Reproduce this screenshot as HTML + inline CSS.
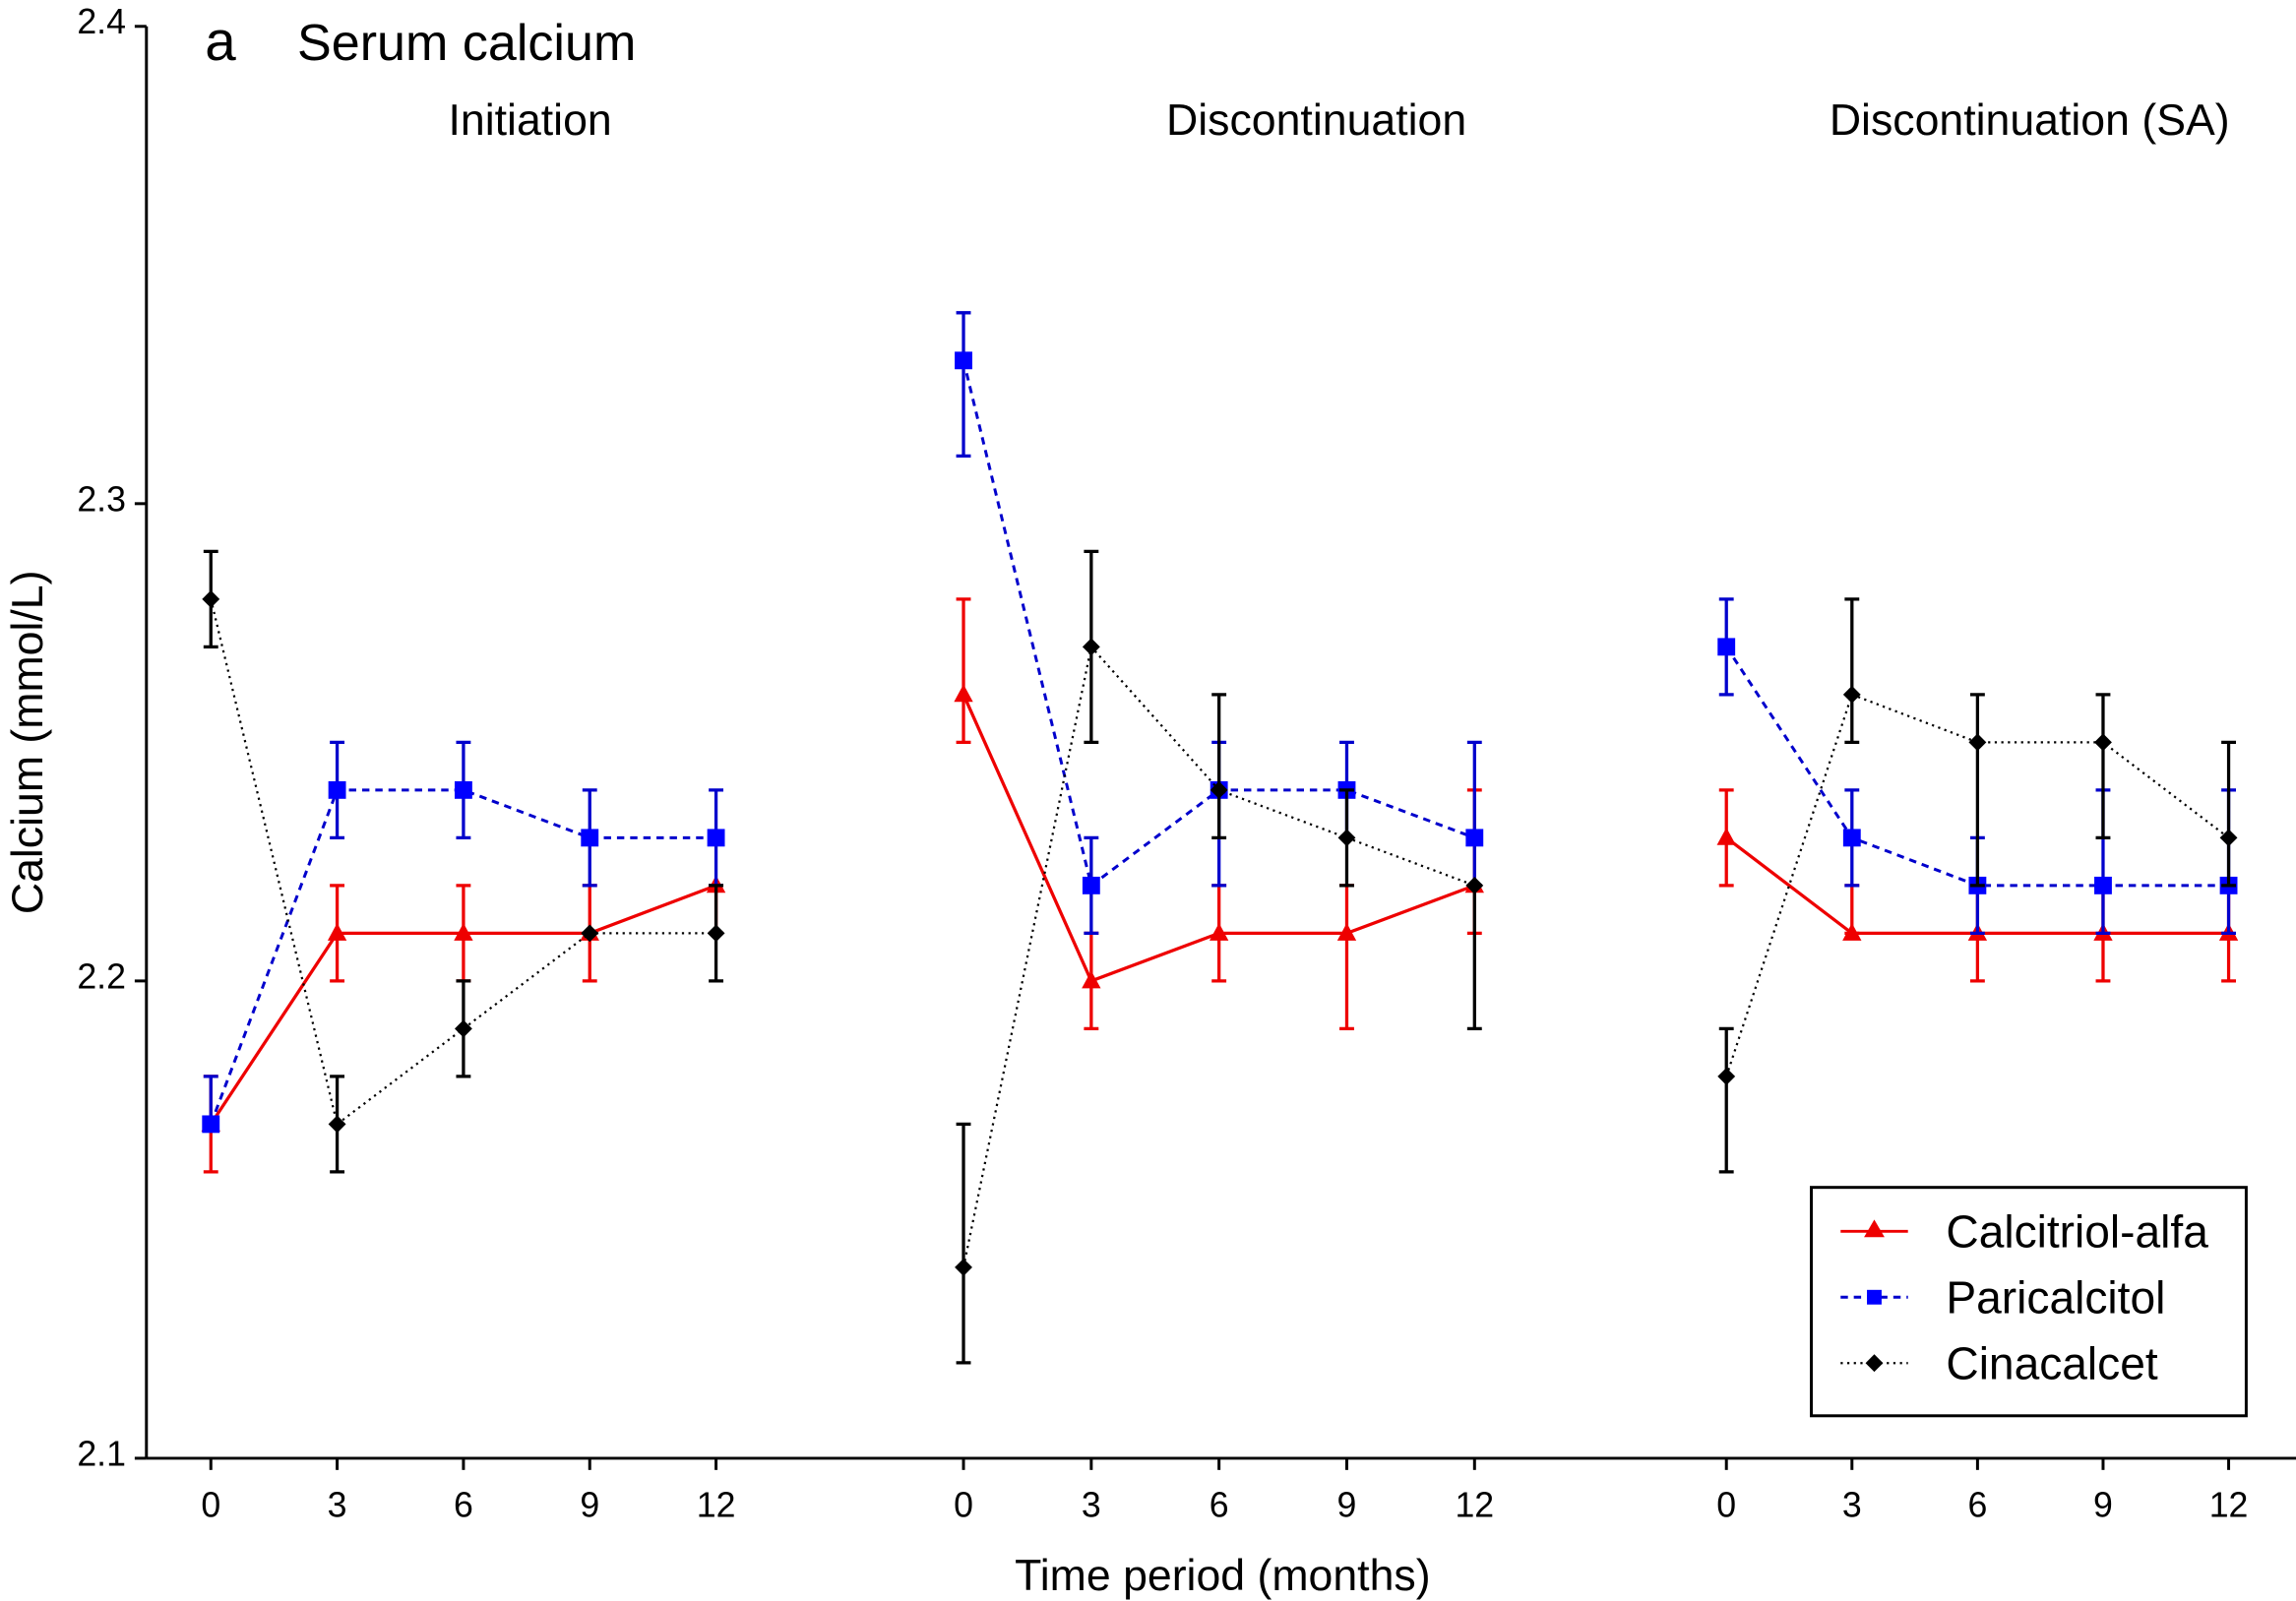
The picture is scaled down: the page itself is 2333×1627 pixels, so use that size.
<!DOCTYPE html>
<html><head><meta charset="utf-8"><style>html,body{margin:0;padding:0;background:#fff}svg{display:block}</style></head>
<body>
<svg id="chart" width="2333" height="1627" viewBox="0 0 1568 1093.5" xmlns="http://www.w3.org/2000/svg" font-family="Liberation Sans, Arial, sans-serif">
<rect width="1568" height="1093.5" fill="#fff"/>
<g id="axes"></g>
<g id="series"></g>
<text x="140" y="41" font-size="38">a</text>
<text x="203" y="41" font-size="35">Serum calcium</text>
<text x="362" y="92" font-size="30" text-anchor="middle">Initiation</text>
<text x="899" y="92" font-size="30" text-anchor="middle">Discontinuation</text>
<text x="1386" y="92" font-size="30" text-anchor="middle">Discontinuation (SA)</text>
<text transform="translate(29,507) rotate(-90)" font-size="30" text-anchor="middle">Calcium (mmol/L)</text>
<text x="835" y="1086" font-size="30" text-anchor="middle">Time period (months)</text>
<g>
<rect x="1237" y="811" width="297" height="156" fill="#fff" stroke="#000" stroke-width="2"/>
<line x1="1257" y1="841" x2="1303" y2="841" stroke="#e00" stroke-width="2"/>
<polygon points="1280,833 1287,845 1273,845" fill="#e00"/>
<text x="1329" y="852" font-size="31">Calcitriol-alfa</text>
<line x1="1257" y1="886" x2="1303" y2="886" stroke="#00c" stroke-width="2" stroke-dasharray="5,4"/>
<rect x="1275" y="881" width="10" height="10" fill="#00f"/>
<text x="1329" y="897" font-size="31">Paricalcitol</text>
<line x1="1257" y1="931" x2="1303" y2="931" stroke="#000" stroke-width="1.5" stroke-dasharray="1.5,3"/>
<polygon points="1280,925 1286,931 1280,937 1274,931" fill="#000"/>
<text x="1329" y="942" font-size="31">Cinacalcet</text>
</g>
</svg>
<script>
const months = [0, 3, 6, 9, 12];
const yTicks = [2.1, 2.2, 2.3, 2.4];
const panelStarts = [144, 658, 1179];
const panelEnds = [489, 1007, 1522];
// Panel 1: Initiation
const calcMean1 = [2.17, 2.21, 2.21, 2.21, 2.22];
const calcLo1 = [2.16, 2.20, 2.20, 2.20, 2.21];
const calcHi1 = [2.18, 2.22, 2.22, 2.22, 2.22];
const pariMean1 = [2.17, 2.24, 2.24, 2.23, 2.23];
const pariLo1 = [2.17, 2.23, 2.23, 2.22, 2.22];
const pariHi1 = [2.18, 2.25, 2.25, 2.24, 2.24];
const cinaMean1 = [2.28, 2.17, 2.19, 2.21, 2.21];
const cinaLo1 = [2.27, 2.16, 2.18, 2.21, 2.20];
const cinaHi1 = [2.29, 2.18, 2.20, 2.21, 2.22];
// Panel 2: Discontinuation
const calcMean2 = [2.26, 2.20, 2.21, 2.21, 2.22];
const calcLo2 = [2.25, 2.19, 2.20, 2.19, 2.21];
const calcHi2 = [2.28, 2.21, 2.22, 2.22, 2.24];
const pariMean2 = [2.33, 2.22, 2.24, 2.24, 2.23];
const pariLo2 = [2.31, 2.21, 2.22, 2.23, 2.22];
const pariHi2 = [2.34, 2.23, 2.25, 2.25, 2.25];
const cinaMean2 = [2.14, 2.27, 2.24, 2.23, 2.22];
const cinaLo2 = [2.12, 2.25, 2.23, 2.22, 2.19];
const cinaHi2 = [2.17, 2.29, 2.26, 2.24, 2.22];
// Panel 3: Discontinuation (SA)
const calcMean3 = [2.23, 2.21, 2.21, 2.21, 2.21];
const calcLo3 = [2.22, 2.21, 2.20, 2.20, 2.20];
const calcHi3 = [2.24, 2.22, 2.22, 2.22, 2.22];
const pariMean3 = [2.27, 2.23, 2.22, 2.22, 2.22];
const pariLo3 = [2.26, 2.22, 2.21, 2.21, 2.21];
const pariHi3 = [2.28, 2.24, 2.23, 2.24, 2.24];
const cinaMean3 = [2.18, 2.26, 2.25, 2.25, 2.23];
const cinaLo3 = [2.16, 2.25, 2.22, 2.23, 2.22];
const cinaHi3 = [2.19, 2.28, 2.26, 2.26, 2.25];

const NS = 'http://www.w3.org/2000/svg';
const yScale = v => 996 - (v - 2.1) / 0.3 * 978;
const xScale = (p, m) => panelStarts[p] + m / 12 * (panelEnds[p] - panelStarts[p]);
function mk(tag, attrs, parent) {
  const e = document.createElementNS(NS, tag);
  for (const k in attrs) e.setAttribute(k, attrs[k]);
  parent.appendChild(e);
  return e;
}
const axes = document.getElementById('axes');
let el = mk('line', {x1: 100, y1: 18, x2: 100, y2: 996, stroke: '#000', 'stroke-width': 2}, axes);


el = mk('line', {x1: 100, y1: 996, x2: 1568, y2: 996, stroke: '#000', 'stroke-width': 2}, axes);


yTicks.forEach(t => {
  const y = yScale(t);
  mk('line', {x1: 92, y1: y, x2: 100, y2: y, stroke: '#000', 'stroke-width': 2}, axes);
  const tx = mk('text', {x: 86, y: y + 5, 'font-size': 24, 'text-anchor': 'end'}, axes);
  tx.textContent = t.toFixed(1);
  
  
});
panelStarts.forEach((s, p) => {
  months.forEach(m => {
    const x = xScale(p, m);
    mk('line', {x1: x, y1: 996, x2: x, y2: 1004, stroke: '#000', 'stroke-width': 2}, axes);
    const tx = mk('text', {x: x, y: 1036, 'font-size': 24, 'text-anchor': 'middle'}, axes);
    tx.textContent = m;
    
    
  });
});
const series = document.getElementById('series');
const defs = [
  {name: 'calcitriol', color: '#e00', dash: null, w: 2.2, marker: 'tri', data: [[calcMean1, calcLo1, calcHi1], [calcMean2, calcLo2, calcHi2], [calcMean3, calcLo3, calcHi3]]},
  {name: 'paricalcitol', color: '#00c', dash: '5,4', w: 2, marker: 'sq', data: [[pariMean1, pariLo1, pariHi1], [pariMean2, pariLo2, pariHi2], [pariMean3, pariLo3, pariHi3]]},
  {name: 'cinacalcet', color: '#000', dash: '1.5,3', w: 1.5, marker: 'dia', data: [[cinaMean1, cinaLo1, cinaHi1], [cinaMean2, cinaLo2, cinaHi2], [cinaMean3, cinaLo3, cinaHi3]]}
];
defs.forEach(d => {
  d.data.forEach(([mean, lo, hi], p) => {
    const g = mk('g', {}, series);
    
    
    months.forEach((m, i) => {
      const x = xScale(p, m);
      const eb = mk('path', {d: `M${x},${yScale(lo[i])}V${yScale(hi[i])}M${x-5},${yScale(lo[i])}H${x+5}M${x-5},${yScale(hi[i])}H${x+5}`, stroke: d.color, 'stroke-width': 2.2, fill: 'none'}, g);
      
      
    });
    const pts = months.map((m, i) => xScale(p, m) + ',' + yScale(mean[i])).join(' ');
    const line = mk('polyline', {points: pts, fill: 'none', stroke: d.color, 'stroke-width': d.w}, g);
    if (d.dash) line.setAttribute('stroke-dasharray', d.dash);
    
    
    months.forEach((m, i) => {
      const x = xScale(p, m), y = yScale(mean[i]);
      let mkEl;
      if (d.marker === 'tri') mkEl = mk('polygon', {points: `${x},${y-7} ${x+6.5},${y+5} ${x-6.5},${y+5}`, fill: '#e00'}, g);
      else if (d.marker === 'sq') mkEl = mk('rect', {x: x - 6, y: y - 6, width: 12, height: 12, fill: '#00f'}, g);
      else mkEl = mk('polygon', {points: `${x},${y-6} ${x+6},${y} ${x},${y+6} ${x-6},${y}`, fill: '#000'}, g);
      
      
    });
  });
});
</script>
</body></html>
